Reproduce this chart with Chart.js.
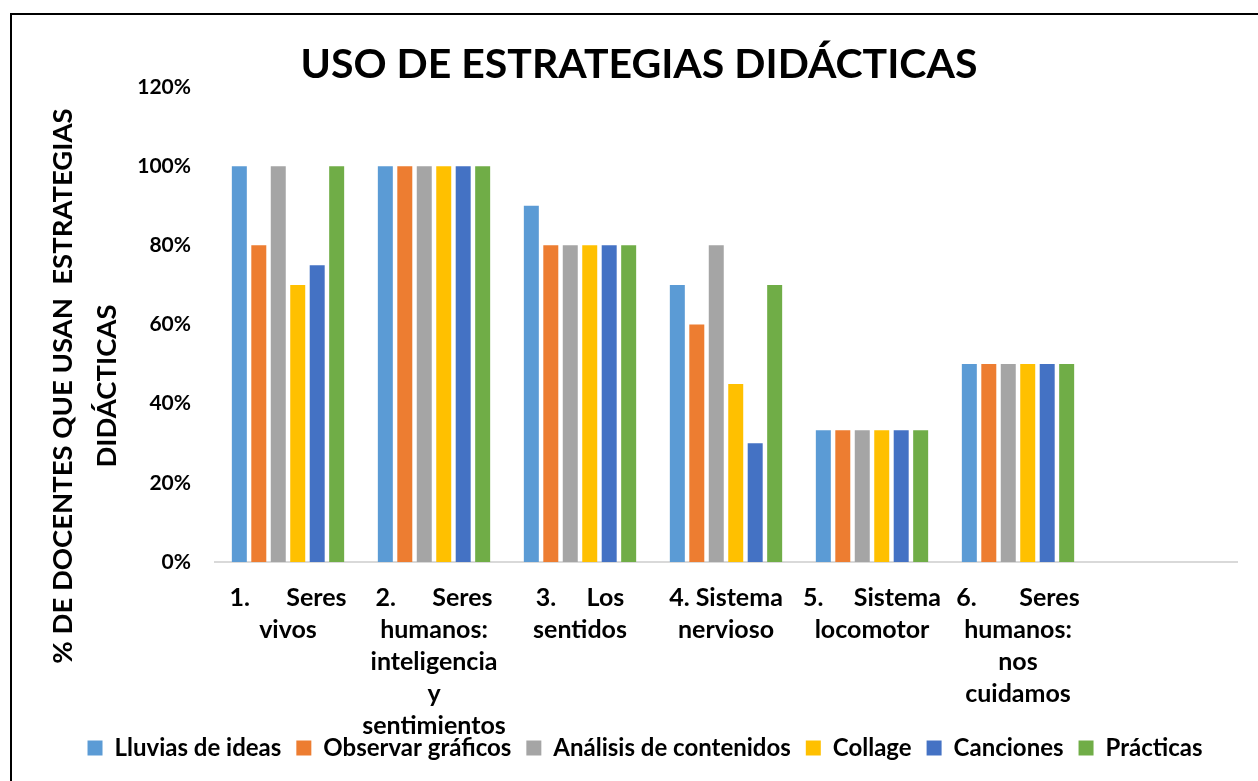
<!DOCTYPE html>
<html>
<head>
<meta charset="utf-8">
<script src="https://cdn.jsdelivr.net/npm/chart.js@4"></script>
<style>
  html, body { margin: 0; padding: 0; background: #fff; }
  #wrap { width: 1258px; height: 781px; position: relative; }
</style>
</head>
<body>
<div id="wrap"><canvas id="estrategias"></canvas></div>
<script>
var categorias = [
    ['1.      Seres', 'vivos'],
    ['2.      Seres', 'humanos:', 'inteligencia', 'y', 'sentimientos'],
    ['3.     Los', 'sentidos'],
    ['4. Sistema', 'nervioso'],
    ['5.     Sistema', 'locomotor'],
    ['6.       Seres', 'humanos:', 'nos', 'cuidamos'],
    ''
];
var lluvias = [100, 100, 90, 70, 33.3, 50, null];
var observar = [80, 100, 80, 60, 33.3, 50, null];
var analisis = [100, 100, 80, 80, 33.3, 50, null];
var collage = [70, 100, 80, 45, 33.3, 50, null];
var canciones = [75, 100, 80, 30, 33.3, 50, null];
var practicas = [100, 100, 80, 70, 33.3, 50, null];
var ticksY = [0, 20, 40, 60, 80, 100, 120];
var tituloY = ['% DE DOCENTES QUE USAN  ESTRATEGIAS', 'DIDÁCTICAS'];

var fuente = 'Lato, "Liberation Sans", sans-serif';

// marco negro y titulo vertical (en Excel va centrado mas abajo que el eje)
var marco = {
    id: 'marco',
    beforeDraw: function(chart) {
        var c = chart.ctx;
        c.save();
        c.fillStyle = '#fff';
        c.fillRect(0, 0, chart.width, chart.height);
        c.strokeStyle = '#000';
        c.lineWidth = 2;
        c.strokeRect(11, 14, chart.width + 20, chart.height + 20);
        c.restore();
    },
    afterLayout: function(chart) {
        // que las etiquetas largas no se recorten
        chart.scales.x.bottom = chart.height;
        chart.legend.left += 6;
        chart.legend.right += 6;
    },
    afterDraw: function(chart) {
        var c = chart.ctx;
        c.save();
        c.translate(63, 386);
        c.rotate(-Math.PI / 2);
        c.fillStyle = '#000';
        c.font = 'bold 27.5px ' + fuente;
        c.textAlign = 'center';
        c.textBaseline = 'middle';
        tituloY.forEach(function(linea, i) {
            c.fillText(linea, 0, i * 44);
        });
        c.restore();
    }
};

function serie(nombre, valores, color) {
    return {
        label: nombre,
        data: valores,
        backgroundColor: color,
        borderWidth: 0,
        categoryPercentage: 0.8,
        barPercentage: 0.77
    };
}

var ctx = document.getElementById('estrategias').getContext('2d');
var grafico = new Chart(ctx, {
    type: 'bar',
    data: {
        labels: categorias,
        datasets: [
            serie('Lluvias de ideas', lluvias, '#5B9BD5'),
            serie('Observar gráficos', observar, '#ED7D31'),
            serie('Análisis de contenidos', analisis, '#A5A5A5'),
            serie('Collage', collage, '#FFC000'),
            serie('Canciones', canciones, '#4472C4'),
            serie('Prácticas', practicas, '#70AD47')
        ]
    },
    options: {
        responsive: true,
        maintainAspectRatio: false,
        animation: false,
        layout: { padding: { left: 41, right: 21, top: 18, bottom: 11 } },
        plugins: {
            title: {
                display: true,
                text: 'USO DE ESTRATEGIAS DIDÁCTICAS',
                color: '#000',
                font: { family: fuente, size: 41, weight: 'bold', lineHeight: 1 },
                padding: { top: 26, bottom: 2 }
            },
            legend: {
                position: 'bottom',
                labels: {
                    color: '#000',
                    boxWidth: 15,
                    boxHeight: 15,
                    padding: 15,
                    font: { family: fuente, size: 24, weight: 'bold' }
                }
            },
            tooltip: { enabled: false }
        },
        scales: {
            x: {
                grid: { display: false },
                border: { display: true, color: '#d9d9d9', width: 2 },
                ticks: {
                    color: '#000',
                    maxRotation: 0,
                    autoSkip: false,
                    padding: 12,
                    font: { family: fuente, size: 25, weight: 'bold', lineHeight: 1.28 }
                },
                // las etiquetas largas se montan sobre la leyenda, como en el original
                afterFit: function(scale) {
                    scale.height = 159;
                }
            },
            y: {
                min: 0,
                max: 120,
                afterBuildTicks: function(axis) {
                    axis.ticks = ticksY.map(function(v) { return { value: v }; });
                },
                afterFit: function(scale) {
                    scale.width = 174;
                },
                grid: { display: false },
                border: { display: false },
                ticks: {
                    color: '#000',
                    padding: 16,
                    font: { family: fuente, size: 21, weight: 'bold' },
                    callback: function(v) { return v + '%'; }
                }
            }
        }
    },
    plugins: [marco]
});
</script>
</body>
</html>
